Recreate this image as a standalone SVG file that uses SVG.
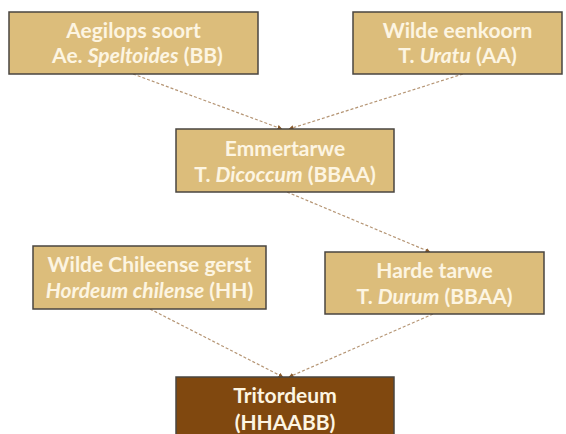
<svg xmlns="http://www.w3.org/2000/svg" width="566" height="434" viewBox="0 0 566 434">
<style>
.box{fill:#dcbd7b;stroke:#4a4540;stroke-width:1.5}
.dark{fill:#80480f;stroke:#4a4540;stroke-width:1.5}
.t{font-family:Lato,"Open Sans","Liberation Sans",sans-serif;font-weight:bold;font-size:21px;fill:#fdf5e2;text-anchor:middle}
.i{font-style:italic}
.c{stroke:#b59574;stroke-width:1.2;stroke-dasharray:3 2;fill:none;marker-end:url(#ah)}
</style>
<defs>
<marker id="ah" viewBox="0 0 10 10" refX="9" refY="5" markerWidth="5" markerHeight="5" orient="auto" markerUnits="userSpaceOnUse">
<path d="M0,0 L10,5 L0,10 z" fill="#8a5a2a"/>
</marker>
</defs>
<rect width="566" height="434" fill="#ffffff"/>
<g id="connectors">
<line class="c" x1="133" y1="74" x2="282" y2="129"/>
<line class="c" x1="463" y1="74" x2="289" y2="129"/>
<line class="c" x1="287" y1="192" x2="430" y2="252"/>
<line class="c" x1="150" y1="309" x2="283" y2="377"/>
<line class="c" x1="433" y1="314" x2="289" y2="377"/>
</g>
<g id="aegilops">
<rect class="box" x="9" y="12" width="249" height="62"/>
<text class="t" x="133.5" y="38">Aegilops soort</text>
<text class="t" x="137.5" y="63">Ae. <tspan class="i">Speltoides</tspan> (BB)</text>
</g>
<g id="eenkoorn">
<rect class="box" x="353" y="12" width="209" height="62"/>
<text class="t" x="457.5" y="38">Wilde eenkoorn</text>
<text class="t" x="457.5" y="63">T. <tspan class="i">Uratu</tspan> (AA)</text>
</g>
<g id="emmertarwe">
<rect class="box" x="176" y="129" width="218" height="63"/>
<text class="t" x="285" y="156">Emmertarwe</text>
<text class="t" x="285" y="182">T. <tspan class="i">Dicoccum</tspan> (BBAA)</text>
</g>
<g id="chileense">
<rect class="box" x="33" y="246" width="233" height="63"/>
<text class="t" x="149.5" y="272">Wilde Chileense gerst</text>
<text class="t" x="149.5" y="298"><tspan class="i">Hordeum chilense</tspan> (HH)</text>
</g>
<g id="harde">
<rect class="box" x="325" y="252" width="219" height="62"/>
<text class="t" x="434.5" y="278">Harde tarwe</text>
<text class="t" x="434.5" y="304">T. <tspan class="i">Durum</tspan> (BBAA)</text>
</g>
<g id="tritordeum">
<rect class="dark" x="176" y="377" width="218" height="64"/>
<text class="t" x="285" y="403">Tritordeum</text>
<text class="t" x="285" y="430">(HHAABB)</text>
</g>
</svg>
